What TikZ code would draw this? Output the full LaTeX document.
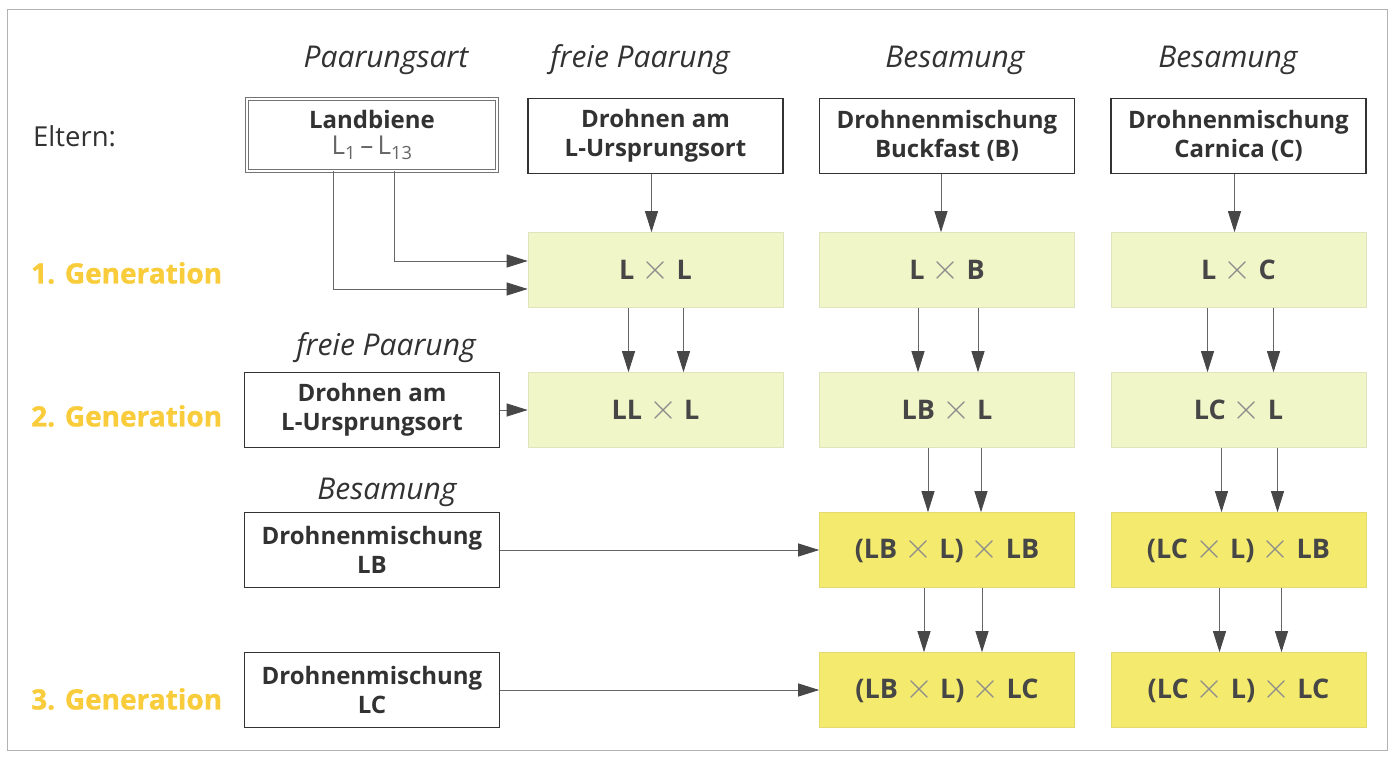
\documentclass[tikz,border=0pt]{standalone}
\usepackage{graphicx}
\usepackage{fontspec}
\setmainfont{Open Sans}
\newfontfamily\genfont{Open Sans}[BoldFeatures={FakeBold=1}]
\usetikzlibrary{arrows.meta}
\definecolor{lgreen}{RGB}{241,246,200}
\definecolor{yel}{RGB}{244,235,110}
\definecolor{gold}{RGB}{248,204,58}
\definecolor{txt}{RGB}{50,50,50}
\definecolor{ctxt}{RGB}{70,70,70}
\newcommand\tms{{\mdseries\color{black!45}\scalebox{1.45}{$\times$}}}
\tikzset{
  base/.style={rectangle, minimum width=255pt, minimum height=75pt, align=center, inner sep=0pt,
    font=\fontsize{24}{28.5}\selectfont\bfseries},
  wbox/.style={base, draw=black!80, line width=1.1pt, fill=white, text=txt},
  gbox/.style={base, fill=lgreen, draw=lgreen!85!gray, line width=0.6pt, text=ctxt,
    font=\fontsize{27}{30}\selectfont\bfseries},
  ybox/.style={gbox, fill=yel, draw=yel!85!gray},
  hdr/.style={font=\fontsize{30}{33}\selectfont\itshape, text=txt, inner sep=0pt},
  gen/.style={font=\genfont\fontsize{28}{31}\selectfont\bfseries, text=gold, anchor=west, inner sep=0pt},
  arr/.style={draw=black!60, line width=0.8pt, -{Triangle[length=21pt,width=13pt,color=black!72]}}
}
\begin{document}
\begin{tikzpicture}[x=1pt,y=-1pt]
\useasboundingbox (0,0) rectangle (1394,762);
\draw[black!30, line width=1pt] (7,10) rectangle (1387,750);

% headers
\node[hdr] (h1) at (386,60) {Paarungsart};
\node[hdr] (h2) at (640,60) {freie Paarung};
\node[hdr] (h3) at (955,60) {Besamung};
\node[hdr] (h4) at (1228,60) {Besamung};
\node[hdr] (h5) at (386,348) {freie Paarung};
\node[hdr] (h6) at (387,492) {Besamung};

% row labels
\node[font=\fontsize{27.5}{30}\selectfont, text=txt, anchor=west, inner sep=0pt] (elt) at (33,136) {Eltern:};
\node[gen] (g1) at (31,273) {1. Generation};
\node[gen] (g2) at (31,416) {2. Generation};
\node[gen] (g3) at (31,699) {3. Generation};

% parents
\node[base, draw=black!55, double, double distance=1.6pt, line width=0.9pt, fill=white, text=txt,
  minimum width=250pt, minimum height=72pt] (land) at (372,135)
  {Landbiene\\[-2pt]{\mdseries\fontsize{26}{28}\selectfont\color{black!60}L\textsubscript{1}\,–\,L\textsubscript{13}}};
\node[wbox] (dtop) at (655.5,136) {Drohnen am\\L-Ursprungsort};
\node[wbox] (btop) at (947,136) {Drohnenmischung\\Buckfast (B)};
\node[wbox] (ctop) at (1238.5,136) {Drohnenmischung\\Carnica (C)};

% left boxes
\node[wbox] (d2) at (372,410) {Drohnen am\\L-Ursprungsort};
\node[wbox] (mlb) at (372,550) {Drohnenmischung\\LB};
\node[wbox] (mlc) at (372,690) {Drohnenmischung\\LC};

% generation 1
\node[gbox] (ll) at (655.5,270) {L \tms{} L};
\node[gbox] (lb) at (947,270) {L \tms{} B};
\node[gbox] (lc) at (1238.5,270) {L \tms{} C};
% generation 2
\node[gbox] (ll2) at (655.5,410) {LL \tms{} L};
\node[gbox] (lb2) at (947,410) {LB \tms{} L};
\node[gbox] (lc2) at (1238.5,410) {LC \tms{} L};
% generation 3
\node[ybox] (lb3) at (947,550) {(LB \tms{} L) \tms{} LB};
\node[ybox] (lc3) at (1238.5,550) {(LC \tms{} L) \tms{} LB};
\node[ybox] (lb4) at (947,690) {(LB \tms{} L) \tms{} LC};
\node[ybox] (lc4) at (1238.5,690) {(LC \tms{} L) \tms{} LC};

% connectors
\draw[arr] ([xshift=22pt]land.south) |- ([yshift=9pt]ll.west);
\draw[arr] ([xshift=-39pt]land.south) |- ([yshift=-19pt]ll.west);
\draw[arr] ([xshift=-4pt]dtop.south) -- ([xshift=-4pt]ll.north);
\draw[arr] ([xshift=-6pt]btop.south) -- ([xshift=-6pt]lb.north);
\draw[arr] ([xshift=-4pt]ctop.south) -- ([xshift=-4pt]lc.north);

\draw[arr] ([xshift=-27pt]ll.south) -- ([xshift=-27pt]ll2.north);
\draw[arr] ([xshift=28pt]ll.south) -- ([xshift=28pt]ll2.north);
\draw[arr] ([xshift=-29pt]lb.south) -- ([xshift=-29pt]lb2.north);
\draw[arr] ([xshift=31pt]lb.south) -- ([xshift=31pt]lb2.north);
\draw[arr] ([xshift=-31pt]lc.south) -- ([xshift=-31pt]lc2.north);
\draw[arr] ([xshift=35pt]lc.south) -- ([xshift=35pt]lc2.north);

\draw[arr] ([xshift=-19pt]lb2.south) -- ([xshift=-19pt]lb3.north);
\draw[arr] ([xshift=34pt]lb2.south) -- ([xshift=34pt]lb3.north);
\draw[arr] ([xshift=-17pt]lc2.south) -- ([xshift=-17pt]lc3.north);
\draw[arr] ([xshift=39pt]lc2.south) -- ([xshift=39pt]lc3.north);

\draw[arr] ([xshift=-23pt]lb3.south) -- ([xshift=-23pt]lb4.north);
\draw[arr] ([xshift=35pt]lb3.south) -- ([xshift=35pt]lb4.north);
\draw[arr] ([xshift=-19pt]lc3.south) -- ([xshift=-19pt]lc4.north);
\draw[arr] ([xshift=43pt]lc3.south) -- ([xshift=43pt]lc4.north);

\draw[arr] (d2.east) -- (ll2.west);
\draw[arr] (mlb.east) -- (lb3.west);
\draw[arr] (mlc.east) -- (lb4.west);
\end{tikzpicture}
\end{document}
